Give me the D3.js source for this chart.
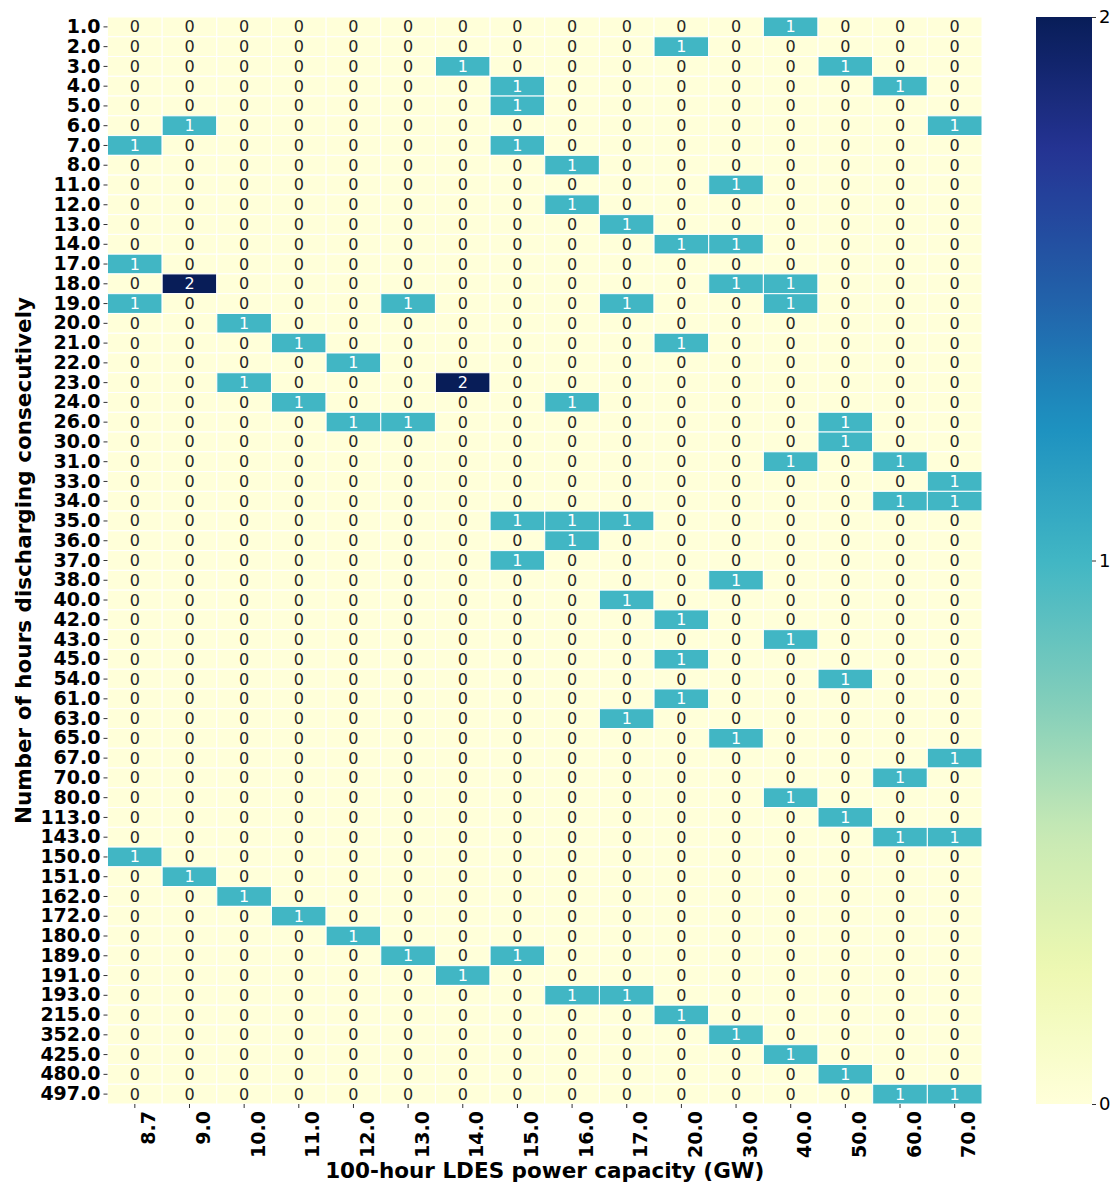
<!DOCTYPE html>
<html>
<head>
<meta charset="utf-8">
<script src="https://cdn.jsdelivr.net/npm/d3@7"></script>
<style>
  body { margin: 0; background: #fff; }
  text { font-family: "DejaVu Sans", sans-serif; }
</style>
</head>
<body>
<div id="heatmap"></div>
<script>
// categories
var powerCaps = ["8.7", "9.0", "10.0", "11.0", "12.0", "13.0", "14.0", "15.0",
  "16.0", "17.0", "20.0", "30.0", "40.0", "50.0", "60.0", "70.0"];
var hours = ["1.0", "2.0", "3.0", "4.0", "5.0", "6.0", "7.0", "8.0", "11.0", "12.0",
  "13.0", "14.0", "17.0", "18.0", "19.0", "20.0", "21.0", "22.0", "23.0", "24.0",
  "26.0", "30.0", "31.0", "33.0", "34.0", "35.0", "36.0", "37.0", "38.0", "40.0",
  "42.0", "43.0", "45.0", "54.0", "61.0", "63.0", "65.0", "67.0", "70.0", "80.0",
  "113.0", "143.0", "150.0", "151.0", "162.0", "172.0", "180.0", "189.0", "191.0",
  "193.0", "215.0", "352.0", "425.0", "480.0", "497.0"];

// non-zero counts: [hours, power capacity, count]; all other cells are 0
var nonZero = [
  ["1.0", "40.0", 1], ["2.0", "20.0", 1], ["3.0", "14.0", 1], ["3.0", "50.0", 1],
  ["4.0", "15.0", 1], ["4.0", "60.0", 1], ["5.0", "15.0", 1], ["6.0", "9.0", 1],
  ["6.0", "70.0", 1], ["7.0", "8.7", 1], ["7.0", "15.0", 1], ["8.0", "16.0", 1],
  ["11.0", "30.0", 1], ["12.0", "16.0", 1], ["13.0", "17.0", 1], ["14.0", "20.0", 1],
  ["14.0", "30.0", 1], ["17.0", "8.7", 1], ["18.0", "9.0", 2], ["18.0", "30.0", 1],
  ["18.0", "40.0", 1], ["19.0", "8.7", 1], ["19.0", "13.0", 1], ["19.0", "17.0", 1],
  ["19.0", "40.0", 1], ["20.0", "10.0", 1], ["21.0", "11.0", 1], ["21.0", "20.0", 1],
  ["22.0", "12.0", 1], ["23.0", "10.0", 1], ["23.0", "14.0", 2], ["24.0", "11.0", 1],
  ["24.0", "16.0", 1], ["26.0", "12.0", 1], ["26.0", "13.0", 1], ["26.0", "50.0", 1],
  ["30.0", "50.0", 1], ["31.0", "40.0", 1], ["31.0", "60.0", 1], ["33.0", "70.0", 1],
  ["34.0", "60.0", 1], ["34.0", "70.0", 1], ["35.0", "15.0", 1], ["35.0", "16.0", 1],
  ["35.0", "17.0", 1], ["36.0", "16.0", 1], ["37.0", "15.0", 1], ["38.0", "30.0", 1],
  ["40.0", "17.0", 1], ["42.0", "20.0", 1], ["43.0", "40.0", 1], ["45.0", "20.0", 1],
  ["54.0", "50.0", 1], ["61.0", "20.0", 1], ["63.0", "17.0", 1], ["65.0", "30.0", 1],
  ["67.0", "70.0", 1], ["70.0", "60.0", 1], ["80.0", "40.0", 1], ["113.0", "50.0", 1],
  ["143.0", "60.0", 1], ["143.0", "70.0", 1], ["150.0", "8.7", 1], ["151.0", "9.0", 1],
  ["162.0", "10.0", 1], ["172.0", "11.0", 1], ["180.0", "12.0", 1], ["189.0", "13.0", 1],
  ["189.0", "15.0", 1], ["191.0", "14.0", 1], ["193.0", "16.0", 1], ["193.0", "17.0", 1],
  ["215.0", "20.0", 1], ["352.0", "30.0", 1], ["425.0", "40.0", 1], ["480.0", "50.0", 1],
  ["497.0", "60.0", 1], ["497.0", "70.0", 1]
];
var colorbarTicks = [0, 1, 2];

// build the full grid
var lookup = {};
nonZero.forEach(function(d) { lookup[d[0] + "|" + d[1]] = d[2]; });
var cells = [];
hours.forEach(function(h) {
  powerCaps.forEach(function(p) {
    cells.push({h: h, p: p, v: lookup[h + "|" + p] || 0});
  });
});

var W = 1113, H = 1185;
var plot = {left: 107.5, right: 982, top: 17, bottom: 1104};

var svg = d3.select("#heatmap").append("svg")
  .attr("width", W).attr("height", H);

// matplotlib-like YlGnBu
var ylgnbu = ["#ffffd9", "#edf8b1", "#c7e9b4", "#7fcdbb", "#41b6c4",
  "#1d91c0", "#225ea8", "#253494", "#081d58"];
var color = d3.scaleSequential(d3.piecewise(d3.interpolateRgb, ylgnbu)).domain([0, 2]);

var x = d3.scaleBand().domain(powerCaps).range([plot.left, plot.right]);
var y = d3.scaleBand().domain(hours).range([plot.top, plot.bottom]);

// cells
svg.append("g").selectAll("rect")
  .data(cells).enter().append("rect")
    .attr("x", function(d) { return x(d.p); })
    .attr("y", function(d) { return y(d.h); })
    .attr("width", x.bandwidth())
    .attr("height", y.bandwidth())
    .attr("fill", function(d) { return color(d.v); })
    .attr("stroke", "#fff")
    .attr("stroke-width", 1);

// annotations
svg.append("g").selectAll("text")
  .data(cells).enter().append("text")
    .attr("x", function(d) { return x(d.p) + x.bandwidth() / 2; })
    .attr("y", function(d) { return y(d.h) + y.bandwidth() / 2; })
    .attr("text-anchor", "middle")
    .attr("dominant-baseline", "central")
    .style("font-size", "16px")
    .attr("fill", function(d) { return d.v > 0 ? "#fff" : "#262626"; })
    .text(function(d) { return d.v; });

// axes
var yAxis = svg.append("g")
  .attr("transform", "translate(" + plot.left + ",0)")
  .call(d3.axisLeft(y).tickSize(4).tickPadding(3));
yAxis.select(".domain").remove();
yAxis.selectAll("text")
  .style("font-size", "19px").style("font-weight", "bold")
  .style("font-family", "DejaVu Sans").attr("fill", "#000");
yAxis.selectAll("line").attr("stroke", "#333");

var xAxis = svg.append("g")
  .attr("transform", "translate(0," + plot.bottom + ")")
  .call(d3.axisBottom(x).tickSize(4).tickPadding(3));
xAxis.select(".domain").remove();
xAxis.selectAll("text")
  .style("font-size", "19px").style("font-weight", "bold")
  .style("font-family", "DejaVu Sans").attr("fill", "#000")
  .attr("text-anchor", "end")
  .attr("dominant-baseline", "central")
  .attr("transform", "rotate(-90)")
  .attr("x", -7).attr("y", 0);
xAxis.selectAll("line").attr("stroke", "#333");

// axis labels
svg.append("text")
  .attr("x", (plot.left + plot.right) / 2)
  .attr("y", 1178)
  .attr("text-anchor", "middle")
  .style("font-size", "21.5px").style("font-weight", "bold")
  .text("100-hour LDES power capacity (GW)");

svg.append("text")
  .attr("transform", "translate(31," + (plot.top + plot.bottom) / 2 + ") rotate(-90)")
  .attr("text-anchor", "middle")
  .style("font-size", "21.5px").style("font-weight", "bold")
  .text("Number of hours discharging consecutively");

// colorbar
var cb = {x: 1036, w: 56, top: plot.top, bottom: plot.bottom};
var grad = svg.append("defs").append("linearGradient")
  .attr("id", "cbgrad").attr("x1", 0).attr("y1", 1).attr("x2", 0).attr("y2", 0);
d3.range(0, 1.0001, 0.02).forEach(function(t) {
  grad.append("stop").attr("offset", t).attr("stop-color", color(t * 2));
});
svg.append("rect")
  .attr("x", cb.x).attr("y", cb.top)
  .attr("width", cb.w).attr("height", cb.bottom - cb.top)
  .attr("fill", "url(#cbgrad)");

var cbScale = d3.scaleLinear().domain([0, 2]).range([cb.bottom, cb.top]);
var cbAxis = svg.append("g")
  .attr("transform", "translate(" + (cb.x + cb.w) + ",0)")
  .call(d3.axisRight(cbScale).tickValues(colorbarTicks).tickFormat(d3.format("d")).tickSize(4).tickPadding(3));
cbAxis.select(".domain").remove();
cbAxis.selectAll("text").style("font-size", "18px").attr("fill", "#000");
cbAxis.selectAll("line").attr("stroke", "#333");
</script>
</body>
</html>
